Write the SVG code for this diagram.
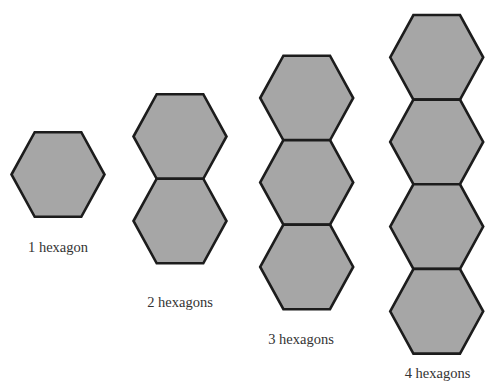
<svg xmlns="http://www.w3.org/2000/svg" xmlns:xlink="http://www.w3.org/1999/xlink" width="485" height="381" viewBox="0 0 485 381">
<style>
.hex{fill:#a6a6a6;stroke:#1c1c1c;stroke-width:2.6;stroke-linejoin:miter}
.lbl{font-family:"Liberation Serif","Times New Roman",serif;font-size:14.5px;fill:#333;text-anchor:middle}
</style>
<defs>
<polygon id="hx" class="hex" points="-46.5,0 -23.3,-42.3 23.3,-42.3 46.5,0 23.3,42.3 -23.3,42.3"/>
</defs>
<rect width="485" height="381" fill="#fff"/>
<g id="connectors"/>
<g id="node-1">
<use xlink:href="#hx" href="#hx" x="58" y="174.5"/>
<text class="lbl" x="58" y="252">1 hexagon</text>
</g>
<g id="node-2">
<use xlink:href="#hx" href="#hx" x="180" y="136.5"/>
<use xlink:href="#hx" href="#hx" x="180" y="221"/>
<text class="lbl" x="180" y="306.5">2 hexagons</text>
</g>
<g id="node-3">
<use xlink:href="#hx" href="#hx" x="306.7" y="98"/>
<use xlink:href="#hx" href="#hx" x="306.7" y="182.4"/>
<use xlink:href="#hx" href="#hx" x="306.7" y="266.9"/>
<text class="lbl" x="301" y="343.5">3 hexagons</text>
</g>
<g id="node-4">
<use xlink:href="#hx" href="#hx" x="436.7" y="57.3"/>
<use xlink:href="#hx" href="#hx" x="436.7" y="141.9"/>
<use xlink:href="#hx" href="#hx" x="436.7" y="226.6"/>
<use xlink:href="#hx" href="#hx" x="436.7" y="311.3"/>
<text class="lbl" x="437.5" y="378">4 hexagons</text>
</g>
</svg>
